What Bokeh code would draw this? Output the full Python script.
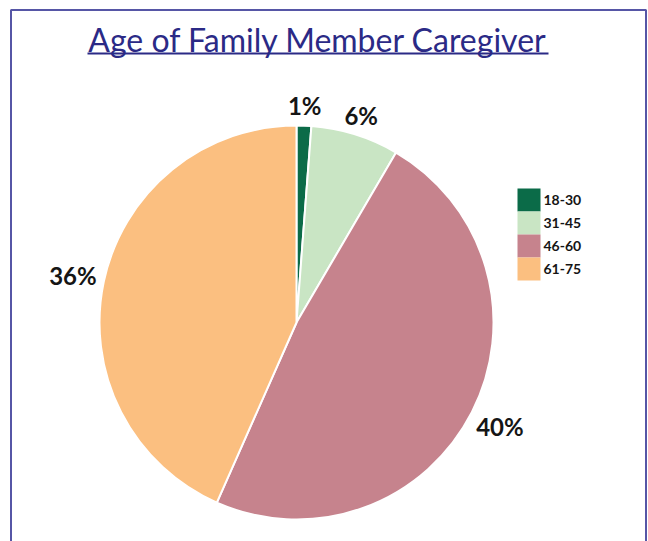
import math
from bokeh.plotting import figure
from bokeh.models import Range1d, ColumnDataSource
from bokeh.core.properties import value
from bokeh.embed import file_html
from bokeh.resources import INLINE

# ---- data ----
title_text = "Age of Family Member Caregiver"
age_groups = ["18-30", "31-45", "46-60", "61-75"]
percent_values = [1, 6, 40, 36]
percent_labels = ["1%", "6%", "40%", "36%"]
slice_colors = ["#0b6b48", "#c9e5c4", "#c6838d", "#fbbf80"]

# ---- layout (pixel space: x right, y up; screen y = H - y) ----
W, H = 648, 541
cx, cy, R = 296, H - 322, 197

total = sum(percent_values)
starts, ends, lx, ly = [], [], [], []
acc = 0.0
for v, lab in zip(percent_values, percent_labels):
    t0 = acc / total * 2 * math.pi
    acc += v
    t1 = acc / total * 2 * math.pi
    # clockwise from top -> bokeh counterclockwise angle
    starts.append(math.pi / 2 - t1)
    ends.append(math.pi / 2 - t0)
    tm = (t0 + t1) / 2
    r_lab = R - 3 + 11.5 * len(lab)
    lx.append(cx + r_lab * math.sin(tm))
    ly.append(cy + r_lab * math.cos(tm))

src = ColumnDataSource(dict(group=age_groups, start=starts, end=ends,
                            color=slice_colors, label=percent_labels,
                            lx=lx, ly=ly))

# legend layout
leg_x0, leg_top, leg_box = 517, 188, 23
n = len(age_groups)
leg_src = ColumnDataSource(dict(
    group=age_groups, color=slice_colors,
    left=[leg_x0] * n,
    right=[leg_x0 + leg_box] * n,
    top=[H - (leg_top + leg_box * i) for i in range(n)],
    bottom=[H - (leg_top + leg_box * (i + 1)) for i in range(n)],
    tx=[leg_x0 + leg_box + 3] * n,
    ty=[H - (leg_top + leg_box * i + leg_box / 2) for i in range(n)],
))

p = figure(width=W, height=H, output_backend="svg", toolbar_location=None,
           x_range=Range1d(0, W), y_range=Range1d(0, H), min_border=0,
           tools="")
p.axis.visible = False
p.grid.visible = False
p.outline_line_color = None
p.background_fill_color = "white"
p.border_fill_color = "white"

# frame border (top, left, right; open at bottom)
p.line(x=[10.5, 10.5, 645.5, 645.5], y=[-5, H - 9.5, H - 9.5, -5],
       line_color="#5656a6", line_width=2)

# title with underline
p.text(x=[317.5], y=[H - 39], text=[title_text],
       text_font=value("Lato"), text_font_size="32px",
       text_color="#2b2a86", text_align="center", text_baseline="middle")
p.line(x=[87, 548], y=[H - 53, H - 53], line_color="#2b2a86", line_width=2)

p.wedge(x=cx, y=cy, radius=R, start_angle="start", end_angle="end",
        direction="anticlock", fill_color="color", line_color="white",
        line_width=2, source=src)

p.text(x="lx", y="ly", text="label", source=src,
       text_font=value("Lato"), text_font_style="bold", text_font_size="24px",
       text_color="#151515", text_align="center", text_baseline="middle")

# legend
p.quad(left="left", right="right", top="top", bottom="bottom",
       fill_color="color", line_color=None, source=leg_src)
p.text(x="tx", y="ty", text="group", source=leg_src,
       text_font=value("Lato"), text_font_style="bold", text_font_size="14px",
       text_color="#151515", text_align="left", text_baseline="middle")

open("out.html", "w").write(file_html(p, INLINE))
